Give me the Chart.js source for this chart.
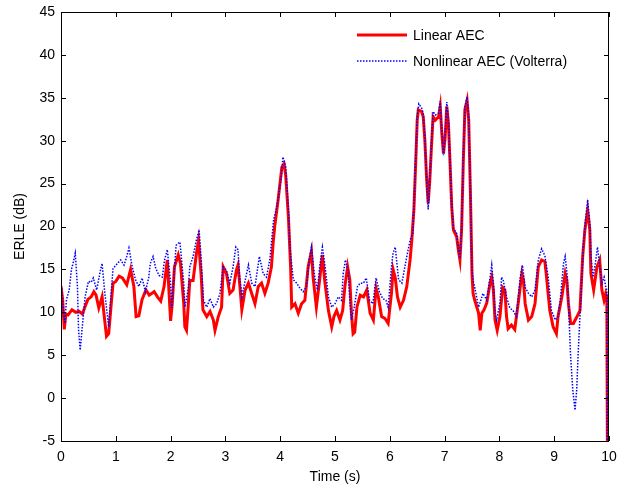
<!DOCTYPE html>
<html>
<head>
<meta charset="utf-8">
<script src="https://cdn.jsdelivr.net/npm/chart.js@4"></script>
<style>
  html, body { margin: 0; padding: 0; background: #fff; }
  #wrap { width: 619px; height: 494px; }
</style>
</head>
<body>
<div id="wrap"><canvas id="myChart"></canvas></div>
<script>
const seriesNames = ['Linear AEC', 'Nonlinear AEC (Volterra)'];
const xTicks = [0, 1, 2, 3, 4, 5, 6, 7, 8, 9, 10];
const yTicks = [-5, 0, 5, 10, 15, 20, 25, 30, 35, 40, 45];

const linearTime = [
    0.00, 0.03, 0.06, 0.09, 0.13, 0.20, 0.27, 0.33, 0.39, 0.43, 0.49, 0.55, 0.60, 0.64, 0.69, 0.75, 0.79, 0.83, 0.87, 0.91,
    0.95, 1.00, 1.06, 1.12, 1.20, 1.27, 1.33, 1.37, 1.42, 1.48, 1.55, 1.61, 1.70, 1.76, 1.82, 1.88, 1.94, 1.97, 2.00, 2.03,
    2.07, 2.14, 2.18, 2.24, 2.26, 2.29, 2.32, 2.35, 2.41, 2.47, 2.51, 2.56, 2.59, 2.66, 2.72, 2.78, 2.81, 2.87, 2.93, 2.96,
    3.02, 3.08, 3.14, 3.20, 3.23, 3.27, 3.30, 3.36, 3.42, 3.48, 3.54, 3.60, 3.66, 3.72, 3.78, 3.84, 3.87, 3.90, 3.96, 4.03,
    4.07, 4.10, 4.15, 4.19, 4.21, 4.27, 4.33, 4.39, 4.45, 4.51, 4.57, 4.60, 4.66, 4.72, 4.77, 4.81, 4.88, 4.94, 4.98, 5.03,
    5.09, 5.14, 5.18, 5.23, 5.27, 5.30, 5.33, 5.36, 5.40, 5.46, 5.52, 5.58, 5.64, 5.70, 5.75, 5.79, 5.85, 5.91, 5.97, 6.03,
    6.06, 6.10, 6.14, 6.19, 6.25, 6.31, 6.37, 6.40, 6.44, 6.47, 6.50, 6.52, 6.58, 6.61, 6.64, 6.67, 6.70, 6.73, 6.76, 6.79,
    6.83, 6.89, 6.92, 6.95, 6.98, 7.01, 7.04, 7.07, 7.10, 7.13, 7.16, 7.22, 7.25, 7.28, 7.31, 7.34, 7.37, 7.41, 7.44, 7.47,
    7.50, 7.52, 7.55, 7.62, 7.65, 7.68, 7.72, 7.77, 7.83, 7.86, 7.89, 7.92, 7.96, 8.01, 8.06, 8.10, 8.13, 8.16, 8.22, 8.28,
    8.35, 8.41, 8.44, 8.47, 8.53, 8.59, 8.65, 8.71, 8.77, 8.83, 8.86, 8.92, 8.98, 9.04, 9.07, 9.14, 9.20, 9.23, 9.26, 9.30,
    9.35, 9.40, 9.47, 9.52, 9.56, 9.61, 9.65, 9.67, 9.72, 9.78, 9.83, 9.87, 9.91, 9.94, 9.96, 9.97, 10.00
];
const linearErle = [
    13.0, 11.5, 8.0, 9.8, 9.7, 10.3, 10.0, 10.1, 9.8, 10.5, 11.5, 11.8, 12.4, 12.0, 10.5, 11.8, 9.5, 7.2, 7.5, 10.5,
    13.4, 13.6, 14.2, 14.0, 13.2, 15.0, 13.0, 9.5, 9.6, 11.5, 12.6, 12.0, 12.4, 11.8, 11.3, 13.0, 16.1, 12.5, 9.0, 11.0,
    15.3, 16.7, 15.7, 11.0, 8.3, 7.9, 10.6, 13.7, 13.7, 16.8, 18.4, 14.1, 10.3, 9.5, 10.1, 9.1, 7.9, 9.5, 10.6, 15.3,
    14.5, 12.2, 12.6, 14.9, 15.5, 12.6, 10.3, 12.6, 13.4, 12.2, 11.0, 13.0, 13.4, 12.2, 13.4, 15.3, 18.0, 20.0, 23.0, 26.9,
    27.3, 26.0, 21.1, 15.3, 10.6, 11.0, 9.9, 11.0, 11.4, 15.3, 17.1, 14.1, 10.6, 13.8, 16.7, 13.8, 10.2, 8.3, 9.5, 10.2,
    9.1, 10.2, 13.0, 15.3, 13.8, 9.9, 7.5, 7.7, 10.6, 12.0, 11.8, 12.6, 9.9, 9.1, 12.8, 11.8, 9.5, 9.3, 8.7, 12.2,
    15.0, 14.0, 11.8, 10.6, 11.4, 13.0, 16.1, 18.3, 22.0, 27.0, 32.4, 33.6, 33.4, 32.8, 30.0, 25.8, 22.7, 25.4, 29.3, 32.8,
    32.4, 32.8, 34.0, 30.8, 28.5, 30.4, 34.0, 32.0, 27.3, 22.3, 19.6, 18.8, 17.3, 16.1, 19.6, 27.3, 33.6, 34.7, 32.4, 24.2,
    14.5, 12.2, 11.4, 9.9, 7.9, 9.9, 10.3, 11.1, 13.4, 14.1, 12.6, 9.1, 7.9, 9.5, 12.9, 12.6, 9.5, 8.1, 8.5, 8.0,
    11.4, 14.5, 13.7, 11.0, 9.1, 9.5, 11.0, 15.3, 16.1, 15.9, 14.1, 10.2, 8.3, 7.5, 9.5, 11.8, 14.5, 13.7, 11.0, 8.7,
    8.7, 9.3, 10.2, 16.5, 19.6, 21.9, 19.6, 14.5, 12.6, 15.3, 16.1, 12.6, 11.4, 12.2, 11.8, -5.0, -5.0
];

const volterraTime = [
    0.00, 0.03, 0.07, 0.10, 0.15, 0.19, 0.22, 0.26, 0.30, 0.32, 0.35, 0.40, 0.44, 0.50, 0.55, 0.59, 0.65, 0.71, 0.75, 0.80,
    0.87, 0.90, 0.95, 1.03, 1.09, 1.15, 1.20, 1.24, 1.30, 1.36, 1.42, 1.48, 1.54, 1.60, 1.63, 1.68, 1.73, 1.79, 1.85, 1.89,
    1.94, 2.00, 2.02, 2.06, 2.10, 2.17, 2.24, 2.26, 2.32, 2.35, 2.41, 2.47, 2.52, 2.56, 2.60, 2.66, 2.72, 2.78, 2.84, 2.90,
    2.96, 3.02, 3.08, 3.14, 3.19, 3.23, 3.26, 3.30, 3.36, 3.42, 3.48, 3.54, 3.62, 3.69, 3.75, 3.81, 3.88, 3.94, 4.02, 4.05,
    4.10, 4.15, 4.18, 4.24, 4.30, 4.36, 4.42, 4.48, 4.53, 4.57, 4.63, 4.68, 4.72, 4.77, 4.82, 4.88, 4.94, 5.00, 5.06, 5.12,
    5.15, 5.19, 5.24, 5.27, 5.30, 5.35, 5.41, 5.46, 5.52, 5.57, 5.63, 5.69, 5.75, 5.81, 5.87, 5.93, 5.97, 6.03, 6.06, 6.10,
    6.16, 6.22, 6.31, 6.37, 6.42, 6.44, 6.47, 6.50, 6.53, 6.58, 6.61, 6.64, 6.67, 6.70, 6.73, 6.76, 6.79, 6.83, 6.89, 6.92,
    6.95, 6.98, 7.01, 7.04, 7.07, 7.10, 7.13, 7.16, 7.22, 7.25, 7.28, 7.31, 7.34, 7.37, 7.41, 7.44, 7.47, 7.50, 7.52, 7.55,
    7.62, 7.66, 7.70, 7.77, 7.83, 7.86, 7.89, 7.92, 7.95, 8.01, 8.04, 8.07, 8.13, 8.19, 8.25, 8.31, 8.38, 8.42, 8.47, 8.53,
    8.59, 8.65, 8.71, 8.77, 8.83, 8.89, 8.95, 9.02, 9.07, 9.11, 9.17, 9.20, 9.24, 9.27, 9.30, 9.34, 9.38, 9.41, 9.44, 9.47,
    9.50, 9.53, 9.57, 9.61, 9.65, 9.67, 9.71, 9.75, 9.79, 9.84, 9.87, 9.91, 9.94, 9.96, 9.97, 10.00
];
const volterraErle = [
    13.8, 11.0, 8.7, 11.5, 12.6, 15.0, 15.7, 16.9, 13.0, 8.0, 5.6, 9.1, 11.8, 13.6, 13.5, 14.0, 12.6, 14.6, 15.7, 12.2,
    8.3, 11.0, 15.1, 15.7, 16.1, 15.5, 16.5, 17.5, 15.3, 13.8, 13.0, 14.0, 12.4, 14.0, 15.7, 16.5, 15.1, 14.3, 14.1, 16.1,
    17.3, 13.4, 10.5, 14.0, 17.8, 18.2, 13.4, 10.6, 12.6, 15.3, 16.5, 18.4, 19.6, 16.1, 11.4, 10.6, 11.6, 10.6, 11.0, 12.2,
    15.3, 14.9, 13.4, 15.3, 17.6, 17.3, 14.1, 11.8, 13.7, 15.5, 13.4, 13.0, 16.5, 14.5, 14.1, 16.1, 20.8, 22.3, 25.8, 28.1,
    27.0, 22.0, 17.3, 13.8, 13.4, 12.8, 12.4, 13.0, 16.1, 17.6, 14.1, 12.6, 15.3, 17.6, 15.3, 11.8, 10.6, 11.0, 11.8, 11.4,
    14.5, 16.1, 14.9, 11.4, 9.1, 10.6, 13.0, 13.4, 13.4, 14.0, 11.4, 11.0, 14.0, 12.4, 11.6, 11.4, 10.6, 15.3, 16.9, 17.6,
    13.8, 13.4, 16.5, 18.4, 19.2, 22.5, 27.5, 32.8, 34.3, 33.8, 33.2, 30.4, 26.0, 22.0, 25.6, 29.6, 33.4, 33.0, 33.2, 34.6,
    31.0, 28.3, 30.6, 34.5, 32.3, 27.5, 22.6, 19.8, 19.2, 17.5, 16.3, 19.8, 27.6, 33.9, 35.1, 32.8, 24.5, 14.9, 13.7, 12.9,
    10.6, 11.4, 12.2, 11.4, 14.1, 15.5, 13.4, 9.9, 9.1, 11.1, 14.1, 13.7, 11.8, 10.5, 10.2, 9.5, 14.1, 15.5, 12.9, 12.2,
    11.8, 12.6, 16.1, 17.4, 16.6, 14.1, 10.2, 9.1, 9.5, 11.4, 15.7, 16.5, 14.1, 9.5, 4.8, 0.9, -1.4, 0.9, 5.6, 9.5,
    13.4, 17.6, 20.7, 23.1, 20.4, 16.5, 14.1, 15.7, 17.6, 14.9, 13.4, 14.1, 13.0, 12.6, -5.0, -5.0
];

const fontFamily = '"Liberation Sans", Arial, sans-serif';

function toPoints(xs, ys) {
    return xs.map((x, i) => ({ x: x, y: ys[i] }));
}

// MATLAB style box with inward ticks + legend inside the axes
const boxPlugin = {
    id: 'boxPlugin',
    afterDraw(chart) {
        const { ctx, chartArea: a, scales: { x, y } } = chart;
        ctx.save();
        ctx.strokeStyle = '#000';
        ctx.lineWidth = 1;
        ctx.setLineDash([]);
        ctx.strokeRect(a.left + 0.5, a.top + 0.5, a.right - a.left - 1, a.bottom - a.top);
        ctx.beginPath();
        xTicks.forEach(v => {
            const px = Math.round(x.getPixelForValue(v)) + 0.5;
            ctx.moveTo(px, a.bottom); ctx.lineTo(px, a.bottom - 5);
            ctx.moveTo(px, a.top); ctx.lineTo(px, a.top + 5);
        });
        yTicks.forEach(v => {
            const py = Math.round(y.getPixelForValue(v)) + 0.5;
            ctx.moveTo(a.left, py); ctx.lineTo(a.left + 5, py);
            ctx.moveTo(a.right, py); ctx.lineTo(a.right - 5, py);
        });
        ctx.stroke();

        // legend
        const lx = 357, ly = 35, gap = 26;
        chart.data.datasets.forEach((ds, i) => {
            const yy = ly + i * gap;
            ctx.beginPath();
            ctx.strokeStyle = ds.borderColor;
            ctx.lineWidth = ds.borderWidth;
            ctx.setLineDash(ds.borderDash || []);
            ctx.moveTo(lx, yy); ctx.lineTo(lx + 50, yy);
            ctx.stroke();
            ctx.setLineDash([]);
            ctx.fillStyle = '#000';
            ctx.font = '14px ' + fontFamily;
            ctx.textBaseline = 'middle';
            ctx.fillText(ds.label, lx + 56, yy + 1);
        });
        ctx.restore();
    }
};

new Chart(document.getElementById('myChart'), {
    type: 'line',
    data: {
        datasets: [
            {
                label: seriesNames[0],
                data: toPoints(linearTime, linearErle),
                borderColor: '#ff0000',
                borderWidth: 3,
                pointRadius: 0,
                tension: 0,
                order: 2
            },
            {
                label: seriesNames[1],
                data: toPoints(volterraTime, volterraErle),
                borderColor: '#0000ff',
                borderWidth: 1.5,
                borderDash: [1.5, 1.5],
                pointRadius: 0,
                tension: 0,
                order: 1
            }
        ]
    },
    options: {
        responsive: true,
        maintainAspectRatio: false,
        animation: false,
        layout: { padding: { top: 12, right: 10, left: 0, bottom: 0 } },
        plugins: {
            legend: { display: false },
            tooltip: { enabled: false }
        },
        scales: {
            x: {
                type: 'linear',
                min: 0,
                max: 10,
                afterBuildTicks: axis => { axis.ticks = xTicks.map(v => ({ value: v })); },
                afterFit: axis => { axis.height = 53; axis.paddingLeft = 0; axis.paddingRight = 0; },
                grid: { display: false, drawTicks: false },
                border: { display: false },
                ticks: { color: '#000', padding: 8, font: { family: fontFamily, size: 14 } },
                title: {
                    display: true,
                    text: 'Time (s)',
                    color: '#000',
                    font: { family: fontFamily, size: 14 },
                    padding: { top: 0, bottom: 8 }
                }
            },
            y: {
                type: 'linear',
                min: -5,
                max: 45,
                afterBuildTicks: axis => { axis.ticks = yTicks.map(v => ({ value: v })); },
                afterFit: axis => { axis.width = 61; axis.paddingTop = 0; axis.paddingBottom = 0; },
                grid: { display: false, drawTicks: false },
                border: { display: false },
                ticks: { color: '#000', padding: 6, font: { family: fontFamily, size: 14 } },
                title: {
                    display: true,
                    text: 'ERLE (dB)',
                    color: '#000',
                    font: { family: fontFamily, size: 14 },
                    padding: { top: 12, bottom: 0 }
                }
            }
        }
    },
    plugins: [boxPlugin]
});
</script>
</body>
</html>
